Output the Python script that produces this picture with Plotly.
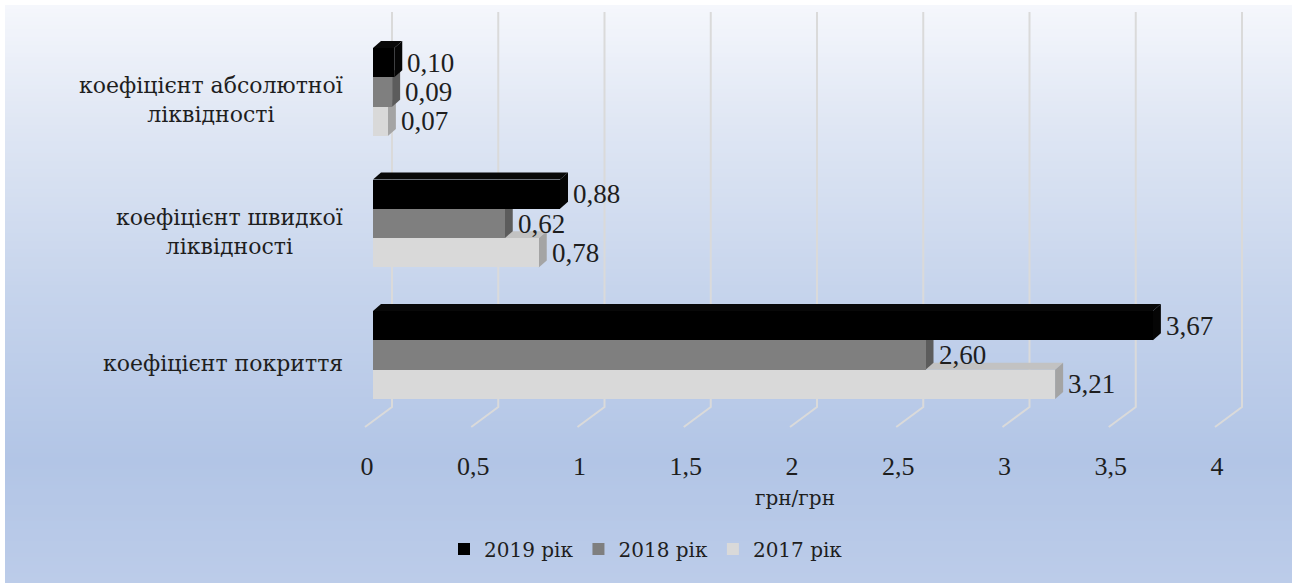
import plotly.graph_objects as go

# ---- data -------------------------------------------------------------
categories = [
    "коефіцієнт абсолютної<br>ліквідності",
    "коефіцієнт швидкої<br>ліквідності",
    "коефіцієнт покриття",
]
years = ["2019 рік", "2018 рік", "2017 рік"]
values_2019 = [0.10, 0.88, 3.67]
values_2018 = [0.09, 0.62, 2.60]
values_2017 = [0.07, 0.78, 3.21]
tick_values = [0, 0.5, 1, 1.5, 2, 2.5, 3, 3.5, 4]
tick_labels = ["0", "0,5", "1", "1,5", "2", "2,5", "3", "3,5", "4"]
axis_title = "грн/грн"

series = [
    ("2017 рік", values_2017),
    ("2018 рік", values_2018),
    ("2019 рік", values_2019),
]

# ---- styling ----------------------------------------------------------
FONT = "Liberation Serif"          # numbers
FONT_CYR = "DejaVu Serif"          # Cyrillic text
FS = 27
TXT = "#1e1e1e"
front = {"2019 рік": "#000000", "2018 рік": "#7f7f7f", "2017 рік": "#d9d9d9"}
top_c = {"2019 рік": "#080808", "2018 рік": "#8e8e8e", "2017 рік": "#c2c2c2"}
side_c = {"2019 рік": "#050505", "2018 рік": "#5c5c5c", "2017 рік": "#a4a4a4"}

W, H = 1297, 583
ML, MR, MT, MB = 360, 47, 10, 151
PW, PH = W - ML - MR, H - MT - MB
X0_PX, X_UNIT = 373.0, 212.5      # pixel of x=0 and px per unit
Y0_PX, Y_UNIT = 355.0, 131.5      # pixel of category 0 and px per category
BAR_H = 0.223                     # bar thickness in category units
DX, DY = 8 / X_UNIT, 7 / Y_UNIT   # 3-D depth of the bars

x_range = [(ML - X0_PX) / X_UNIT, (W - MR - X0_PX) / X_UNIT]
y_range = [(Y0_PX - (H - MB)) / Y_UNIT, (Y0_PX - MT) / Y_UNIT]


def px_to_paper(px, py):
    return (px - ML) / PW, (H - MB - py) / PH


def ypx(py):
    return (Y0_PX - py) / Y_UNIT


n_cat = len(categories)
cat_pos = [n_cat - 1 - i for i in range(n_cat)]  # top to bottom
offsets = {"2017 рік": -BAR_H, "2018 рік": 0.0, "2019 рік": BAR_H}

fig = go.Figure()
shapes = []

# ---- background gradient (white border, light-blue fade) --------------
stops = [(5, (245, 247, 252)), (120, (224, 231, 244)), (290, (198, 212, 236)),
         (460, (178, 197, 230)), (583, (188, 204, 233))]


def grad(py):
    for (a, ca), (b, cb) in zip(stops, stops[1:]):
        if a <= py <= b:
            t = (py - a) / (b - a)
            return tuple(round(ca[k] + (cb[k] - ca[k]) * t) for k in range(3))
    return stops[-1][1]


band = 4
py = 5
while py < H:
    x0p, y0p = px_to_paper(5, py)
    x1p, y1p = px_to_paper(1292, min(py + band + 0.6, H))
    c = grad(py + band / 2)
    shapes.append(dict(type="rect", xref="paper", yref="paper", x0=x0p, x1=x1p,
                       y0=y0p, y1=y1p, line=dict(width=0),
                       fillcolor=f"rgb{c}", layer="below"))
    py += band

# ---- 3-D gridlines (back wall + floor) --------------------------------
y_floor, y_back, y_top = ypx(427), ypx(407), ypx(12)
for v in tick_values:
    xf, xb = v - 8 / X_UNIT, v + 19 / X_UNIT
    shapes.append(dict(type="path", xref="x", yref="y",
                       path=f"M{xf},{y_floor} L{xb},{y_back} L{xb},{y_top}",
                       line=dict(color="rgb(218,218,218)", width=2),
                       layer="below"))

# ---- top and side faces of the bars ----------------------------------
for ci in range(n_cat):
    for name, vals in series:  # bottom bar first
        v = vals[ci]
        yc = cat_pos[ci] + offsets[name]
        yt, yb = yc + BAR_H / 2, yc - BAR_H / 2
        shapes.append(dict(type="path", xref="x", yref="y",
                           path=f"M0,{yt} L{v},{yt} L{v + DX},{yt + DY} L{DX},{yt + DY} Z",
                           fillcolor=top_c[name], line=dict(width=0), layer="below"))
        shapes.append(dict(type="path", xref="x", yref="y",
                           path=f"M{v},{yb} L{v},{yt} L{v + DX},{yt + DY} L{v + DX},{yb + DY} Z",
                           fillcolor=side_c[name], line=dict(width=0), layer="below"))

# ---- front faces --------------------------------------------------------
for name, vals in series:
    fig.add_trace(go.Bar(
        name=name, orientation="h",
        x=vals, y=[p + offsets[name] for p in cat_pos],
        width=BAR_H, marker=dict(color=front[name], line=dict(width=0)),
        hoverinfo="skip",
    ))

annotations = []
# value labels
for name, vals in series:
    for ci, v in enumerate(vals):
        annotations.append(dict(
            x=v, y=cat_pos[ci] + offsets[name], xref="x", yref="y",
            text=f"{v:.2f}".replace(".", ","), showarrow=False,
            xanchor="left", yanchor="middle", xshift=11,
            font=dict(family=FONT, size=FS, color=TXT)))

# category labels
for ci, label in enumerate(categories):
    xp, _ = px_to_paper(345, 0)
    annotations.append(dict(
        x=xp, y=cat_pos[ci], xref="paper", yref="y", text=label,
        showarrow=False, xanchor="right", yanchor="middle", align="center",
        yshift=-8, font=dict(family=FONT_CYR, size=22, color=TXT)))

# axis title
tx, ty = px_to_paper(795, 498)
annotations.append(dict(x=tx, y=ty, xref="paper", yref="paper", text=axis_title,
                        showarrow=False, xanchor="center", yanchor="middle",
                        font=dict(family=FONT_CYR, size=20, color=TXT)))

lx, ly = px_to_paper(444, 549)
fig.update_layout(
    width=W, height=H,
    margin=dict(l=ML, r=MR, t=MT, b=MB),
    paper_bgcolor="white", plot_bgcolor="rgba(0,0,0,0)",
    barmode="overlay", bargap=0,
    shapes=shapes, annotations=annotations,
    font=dict(family=FONT, size=FS, color=TXT),
    xaxis=dict(range=x_range, tickmode="array", tickvals=tick_values,
               ticktext=tick_labels, showgrid=False, zeroline=False,
               showline=False, ticks="", ticklabelshift=-6,
               ticklabelstandoff=16, fixedrange=True,
               tickfont=dict(family=FONT, size=26, color=TXT)),
    yaxis=dict(range=y_range, showgrid=False, zeroline=False, showline=False,
               showticklabels=False, ticks="", fixedrange=True),
    legend=dict(orientation="h", x=lx, y=ly, xanchor="left", yanchor="middle",
                traceorder="reversed", bgcolor="rgba(0,0,0,0)",
                font=dict(family=FONT_CYR, size=20, color=TXT)),
)

fig.write_html("out.html")
